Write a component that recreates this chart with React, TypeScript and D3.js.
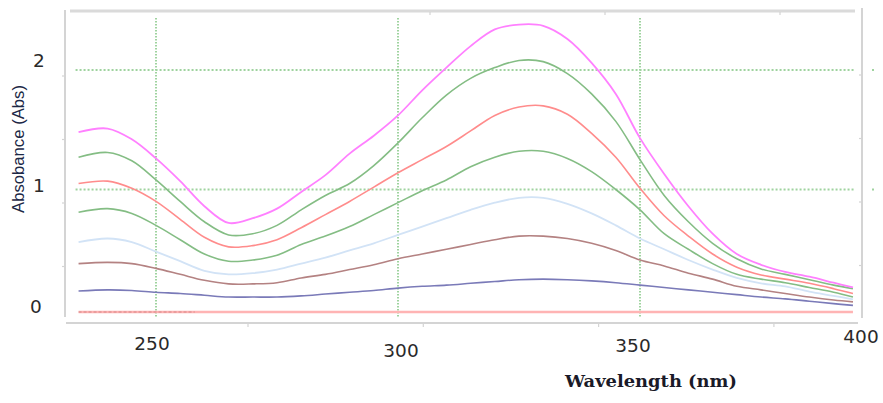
import React from 'react';
import * as d3 from 'd3';

// wavelengths (nm)
const wavelengths = [234, 240, 245, 250, 255, 260, 265, 270, 275, 280, 285, 290, 295, 300, 305, 310, 315, 320, 325, 330, 335, 340, 345, 350, 355, 360, 365, 370, 375, 380, 385, 390, 394];

// absorbance series, top curve first
const magenta = [1.48, 1.51, 1.42, 1.26, 1.07, 0.86, 0.72, 0.76, 0.84, 0.98, 1.12, 1.3, 1.45, 1.62, 1.83, 2.02, 2.2, 2.34, 2.38, 2.37, 2.26, 2.06, 1.8, 1.43, 1.13, 0.86, 0.63, 0.46, 0.37, 0.31, 0.27, 0.22, 0.18];
const green1 = [1.27, 1.31, 1.24, 1.08, 0.9, 0.73, 0.62, 0.63, 0.7, 0.83, 0.95, 1.05, 1.2, 1.39, 1.6, 1.79, 1.93, 2.02, 2.08, 2.07, 1.97, 1.8, 1.57, 1.25, 0.95, 0.73, 0.55, 0.42, 0.335, 0.29, 0.245, 0.2, 0.17];
const red = [1.05, 1.07, 1.01, 0.9, 0.75, 0.6, 0.52, 0.53, 0.58, 0.68, 0.79, 0.9, 1.02, 1.14, 1.25, 1.36, 1.49, 1.62, 1.69, 1.7, 1.63, 1.47, 1.27, 1.01, 0.78, 0.61, 0.46, 0.35, 0.285, 0.25, 0.215, 0.17, 0.13];
const green2 = [0.81, 0.84, 0.8, 0.7, 0.58, 0.46, 0.4, 0.41, 0.45, 0.54, 0.61, 0.69, 0.79, 0.89, 0.99, 1.08, 1.19, 1.27, 1.32, 1.32, 1.26, 1.15, 1.0, 0.83, 0.63, 0.5, 0.38, 0.29, 0.25, 0.22, 0.18, 0.14, 0.1];
const lightBlue = [0.56, 0.59, 0.56, 0.48, 0.4, 0.32, 0.29, 0.3, 0.33, 0.38, 0.43, 0.49, 0.55, 0.62, 0.69, 0.76, 0.83, 0.89, 0.93, 0.93, 0.88, 0.8, 0.7, 0.59, 0.5, 0.41, 0.33, 0.26, 0.215, 0.19, 0.145, 0.11, 0.08];
const brown = [0.38, 0.39, 0.38, 0.34, 0.29, 0.24, 0.21, 0.21, 0.22, 0.26, 0.29, 0.33, 0.37, 0.42, 0.46, 0.5, 0.54, 0.58, 0.61, 0.61, 0.59, 0.55, 0.49, 0.41, 0.36, 0.3, 0.25, 0.19, 0.16, 0.13, 0.1, 0.075, 0.06];
const purple = [0.15, 0.16, 0.155, 0.14, 0.13, 0.115, 0.1, 0.1, 0.1, 0.11, 0.125, 0.14, 0.155, 0.175, 0.19, 0.2, 0.215, 0.23, 0.245, 0.25, 0.245, 0.235, 0.22, 0.2, 0.18, 0.16, 0.14, 0.12, 0.1, 0.085, 0.065, 0.045, 0.03];

// flat baseline (blank) trace
const blankWavelengths = [234, 394];
const blank = [-0.025, -0.025];

const xTicks = [250, 300, 350, 400];
const yTicks = [0, 1, 2];
const xGrid = [250, 300, 350];
const yGrid = [1, 2];

const series = [
  { name: 'purple', values: purple, color: '#7a7ab8', width: 1.6 },
  { name: 'brown', values: brown, color: '#b48282', width: 1.6 },
  { name: 'lightBlue', values: lightBlue, color: '#d2e3f6', width: 1.8 },
  { name: 'green2', values: green2, color: '#84bd84', width: 1.6 },
  { name: 'red', values: red, color: '#ff8c8c', width: 1.6 },
  { name: 'green1', values: green1, color: '#84bd84', width: 1.6 },
  { name: 'magenta', values: magenta, color: '#ff80ff', width: 1.8 },
];

// the labels in the source image sit a little off their grid lines
const xLabelShift = [{ dx: -4, y: 350 }, { dx: 3, y: 357 }, { dx: -7, y: 352 }, { dx: -21, y: 343 }];
const yLabelPos = [{ x: 36, y: 313 }, { x: 39, y: 192 }, { x: 39, y: 67 }];

const App = () => {
  const W = 883;
  const H = 403;

  const x = d3.scaleLinear().domain([250, 350]).range([156, 640]);
  const y = d3.scaleLinear().domain([0, 2]).range([309, 70]);

  const line = (xs: number[]) => d3.line<number>()
    .x((d, i) => x(xs[i]))
    .y(d => y(d))
    .curve(d3.curveCatmullRom.alpha(0.5));

  const gridColor = '#9fd39f';
  const frameColor = '#d4d4d4';

  // decorative frame ticks (not aligned to data, as in the source)
  const leftTicks = d3.range(0, 4).map(i => 76 + i * 63.5);
  const topTicks = d3.range(0, 3).map(i => 430 + i * 175);
  const bottomTicks = d3.range(0, 4).map(i => 248 + i * 175.3);

  const x0 = x(wavelengths[0]);

  return (
    <svg width={W} height={H} style={{ position: 'absolute', left: 0, top: 0, background: '#fff' }}>
      {/* frame */}
      <line x1={65} x2={65} y1={10} y2={317} stroke={frameColor} strokeWidth={2} />
      <line x1={70} x2={855} y1={11} y2={11} stroke="#dadada" strokeWidth={3} />
      <line x1={862} x2={862} y1={8} y2={318} stroke={frameColor} strokeWidth={2} />
      <line x1={66} x2={858} y1={323} y2={323} stroke={frameColor} strokeWidth={2} />
      {leftTicks.map((t, i) => (
        <line key={'l' + i} x1={62} x2={65} y1={t} y2={t} stroke={frameColor} strokeWidth={1.2} />
      ))}
      {leftTicks.map((t, i) => (
        <line key={'r' + i} x1={859} x2={862} y1={t - 1} y2={t - 1} stroke={frameColor} strokeWidth={1.2} />
      ))}
      {topTicks.map((t, i) => (
        <line key={'t' + i} x1={t} x2={t} y1={12} y2={15} stroke={frameColor} strokeWidth={1.2} />
      ))}
      {bottomTicks.map((t, i) => (
        <line key={'b' + i} x1={t} x2={t} y1={323} y2={327} stroke={frameColor} strokeWidth={1.2} />
      ))}

      {/* grid */}
      {xGrid.map(v => (
        <line key={'gx' + v} x1={x(v)} x2={x(v)} y1={18} y2={317}
          stroke={gridColor} strokeWidth={2} strokeDasharray="1.5,1.5" />
      ))}
      {yGrid.map(v => (
        <g key={'gy' + v}>
          <line x1={x0 - 3} x2={855} y1={y(v)} y2={y(v)}
            stroke={gridColor} strokeWidth={2} strokeDasharray="2,2" />
          <rect x={872} y={y(v) - 1} width={2} height={2} fill={gridColor} />
        </g>
      ))}

      {/* curves */}
      <path d={line(blankWavelengths)(blank) || ''} fill="none" stroke="#ffb4b4" strokeWidth={2.5} />
      {series.map(s => (
        <path key={s.name} d={line(wavelengths)(s.values) || ''} fill="none" stroke={s.color}
          strokeWidth={s.width} strokeLinejoin="round" />
      ))}
      <line x1={x0} x2={x(258)} y1={y(blank[0])} y2={y(blank[0])} stroke="#b86a6a"
        strokeWidth={1.2} strokeDasharray="3,2" opacity={0.6} />

      {/* tick labels */}
      {xTicks.map((v, i) => (
        <text key={'xt' + v} x={x(v) + xLabelShift[i].dx} y={xLabelShift[i].y} textAnchor="middle"
          fontFamily="DejaVu Sans, Verdana, sans-serif" fontSize={18.5} fill="#2a2a2a">{v}</text>
      ))}
      {yTicks.map((v, i) => (
        <text key={'yt' + v} x={yLabelPos[i].x} y={yLabelPos[i].y} textAnchor="middle"
          fontFamily="DejaVu Sans, Verdana, sans-serif" fontSize={18.5} fill="#2a2a2a">{v}</text>
      ))}

      {/* axis titles */}
      <text transform="translate(24,149) rotate(-90)" textAnchor="middle"
        fontFamily="Liberation Sans, Arial, sans-serif" fontSize={16.5} fill="#1c2846"
        textLength={128} lengthAdjust="spacingAndGlyphs">Absobance (Abs)</text>
      <text x={651} y={387} textAnchor="middle" fontFamily="DejaVu Serif, serif" fontSize={16.5}
        fontWeight={600} fill="#1a1a28" textLength={172} lengthAdjust="spacingAndGlyphs">Wavelength (nm)</text>
    </svg>
  );
};

export default App;
